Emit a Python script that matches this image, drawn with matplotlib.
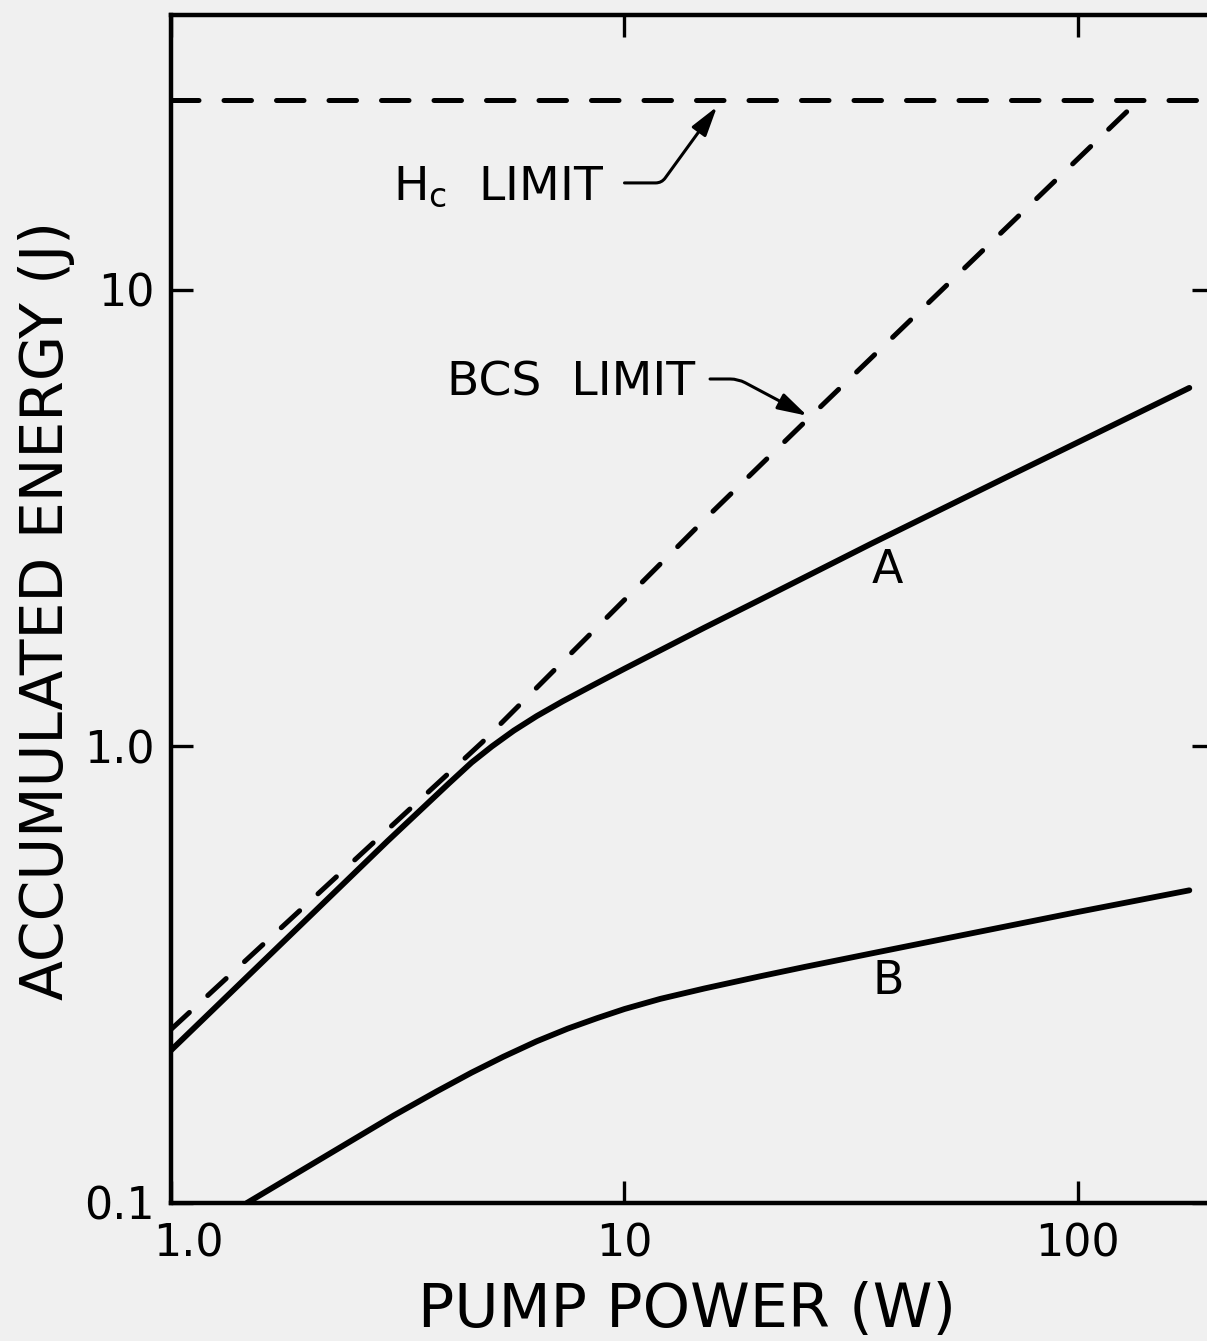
## log-log plot of accumulated energy vs pump power
import matplotlib
matplotlib.use("Agg")
import matplotlib.pyplot as plt
from matplotlib.ticker import FixedLocator, NullLocator
from matplotlib.transforms import ScaledTranslation

# values
power_A = [1.0, 2.0, 3.0, 4.1, 4.6, 5.1, 5.7, 6.4, 7.3, 8.5, 10, 15, 20, 35, 70, 176]
energy_A = [0.216, 0.42, 0.62, 0.83, 0.922, 1.0, 1.083, 1.165, 1.255, 1.36, 1.48,
            1.82, 2.10, 2.78, 3.90, 6.1]

power_B = [1.47, 2.32, 3.1, 3.86, 4.6, 5.4, 6.4, 7.5, 8.7, 10, 12, 15, 20, 25, 35,
           50, 100, 176]
energy_B = [0.100, 0.131, 0.1555, 0.1757, 0.193, 0.209, 0.226, 0.241, 0.254, 0.266,
            0.280, 0.295, 0.314, 0.329, 0.352, 0.378, 0.434, 0.484]

power_bcs = [1.0, 4.85, 15.7, 25.4, 136]
energy_bcs = [0.240, 1.02, 3.28, 5.22, 26.0]

power_hc = [1.0, 200]
energy_hc = [26.0, 26.0]

x_ticks = [1, 10, 100]
x_ticklabels = ["1.0", "10", "100"]
y_ticks = [0.1, 1, 10]
y_ticklabels = ["0.1", "1.0", "10"]

bg = "#f0f0f0"
W, H = 1207, 1341

fig = plt.figure(figsize=(W / 100, H / 100), dpi=100)
fig.patch.set_facecolor(bg)
ax = fig.add_axes([171 / W, 1 - 1203 / H, 1043.5 / W, (1203 - 15) / H])
ax.set_facecolor(bg)
ax.set_xscale("log")
ax.set_yscale("log")

# curves
ax.plot(power_A, energy_A, color="black", lw=4.2, solid_capstyle="round",
        solid_joinstyle="round")
ax.plot(power_B, energy_B, color="black", lw=4.2, solid_capstyle="round",
        solid_joinstyle="round")
ax.plot(power_bcs, energy_bcs, color="black", lw=3.6, linestyle=(0, (5, 5)),
        dash_capstyle="round")
ax.plot(power_hc, energy_hc, color="black", lw=3.6, linestyle=(0, (5.5, 5)),
        dash_capstyle="round")

ax.set_xlim(1, 200)
ax.set_ylim(0.1, 40)

# ticks only at the decades
ax.xaxis.set_major_locator(FixedLocator(x_ticks))
ax.xaxis.set_minor_locator(NullLocator())
ax.yaxis.set_major_locator(FixedLocator(y_ticks))
ax.yaxis.set_minor_locator(NullLocator())
ax.set_xticklabels(x_ticklabels)
ax.set_yticklabels(y_ticklabels)
ax.tick_params(which="both", direction="in", length=16, width=2.4,
               top=True, right=True, labelsize=32)
ax.tick_params(axis="x", pad=14)
ax.tick_params(axis="y", pad=12)
for s in ax.spines.values():
    s.set_linewidth(3.2)
# the "1.0" under the corner sits a little to the right in the original
first = ax.get_xticklabels()[0]
first.set_transform(first.get_transform() + ScaledTranslation(0.17, 0, fig.dpi_scale_trans))

# curve labels
ax.text(37.9, 2.43, "A", fontsize=33, ha="center", va="center")
ax.text(38.1, 0.305, "B", fontsize=33, ha="center", va="center")

# limit labels with leader arrows
arrow = "-|>,head_length=0.45,head_width=0.13"
ax.text(3.09, 15.8, r"$\mathregular{H_c}$  LIMIT", fontsize=34, va="baseline")
ax.annotate("", xy=(16.0, 25.2), xytext=(10.0, 17.15),
            arrowprops=dict(arrowstyle=arrow, color="black", lw=2.2,
                            connectionstyle="angle,angleA=0,angleB=54,rad=6",
                            shrinkA=0, shrinkB=0, mutation_scale=40))
ax.text(4.06, 5.86, "BCS  LIMIT", fontsize=34, va="baseline")
ax.annotate("", xy=(25.3, 5.30), xytext=(15.44, 6.38),
            arrowprops=dict(arrowstyle=arrow, color="black", lw=2.2,
                            connectionstyle="angle,angleA=0,angleB=-28,rad=8",
                            shrinkA=0, shrinkB=0, mutation_scale=40))

# axis titles
fig.text(687.5 / W, 1 - 1327 / H, "PUMP POWER (W)", fontsize=43.5,
         ha="center", va="baseline")
fig.text(63 / W, 1 - 611 / H, "ACCUMULATED ENERGY (J)", fontsize=42,
         rotation=90, ha="center", va="baseline", rotation_mode="anchor")

fig.savefig("out.png", dpi=100, facecolor=bg)
